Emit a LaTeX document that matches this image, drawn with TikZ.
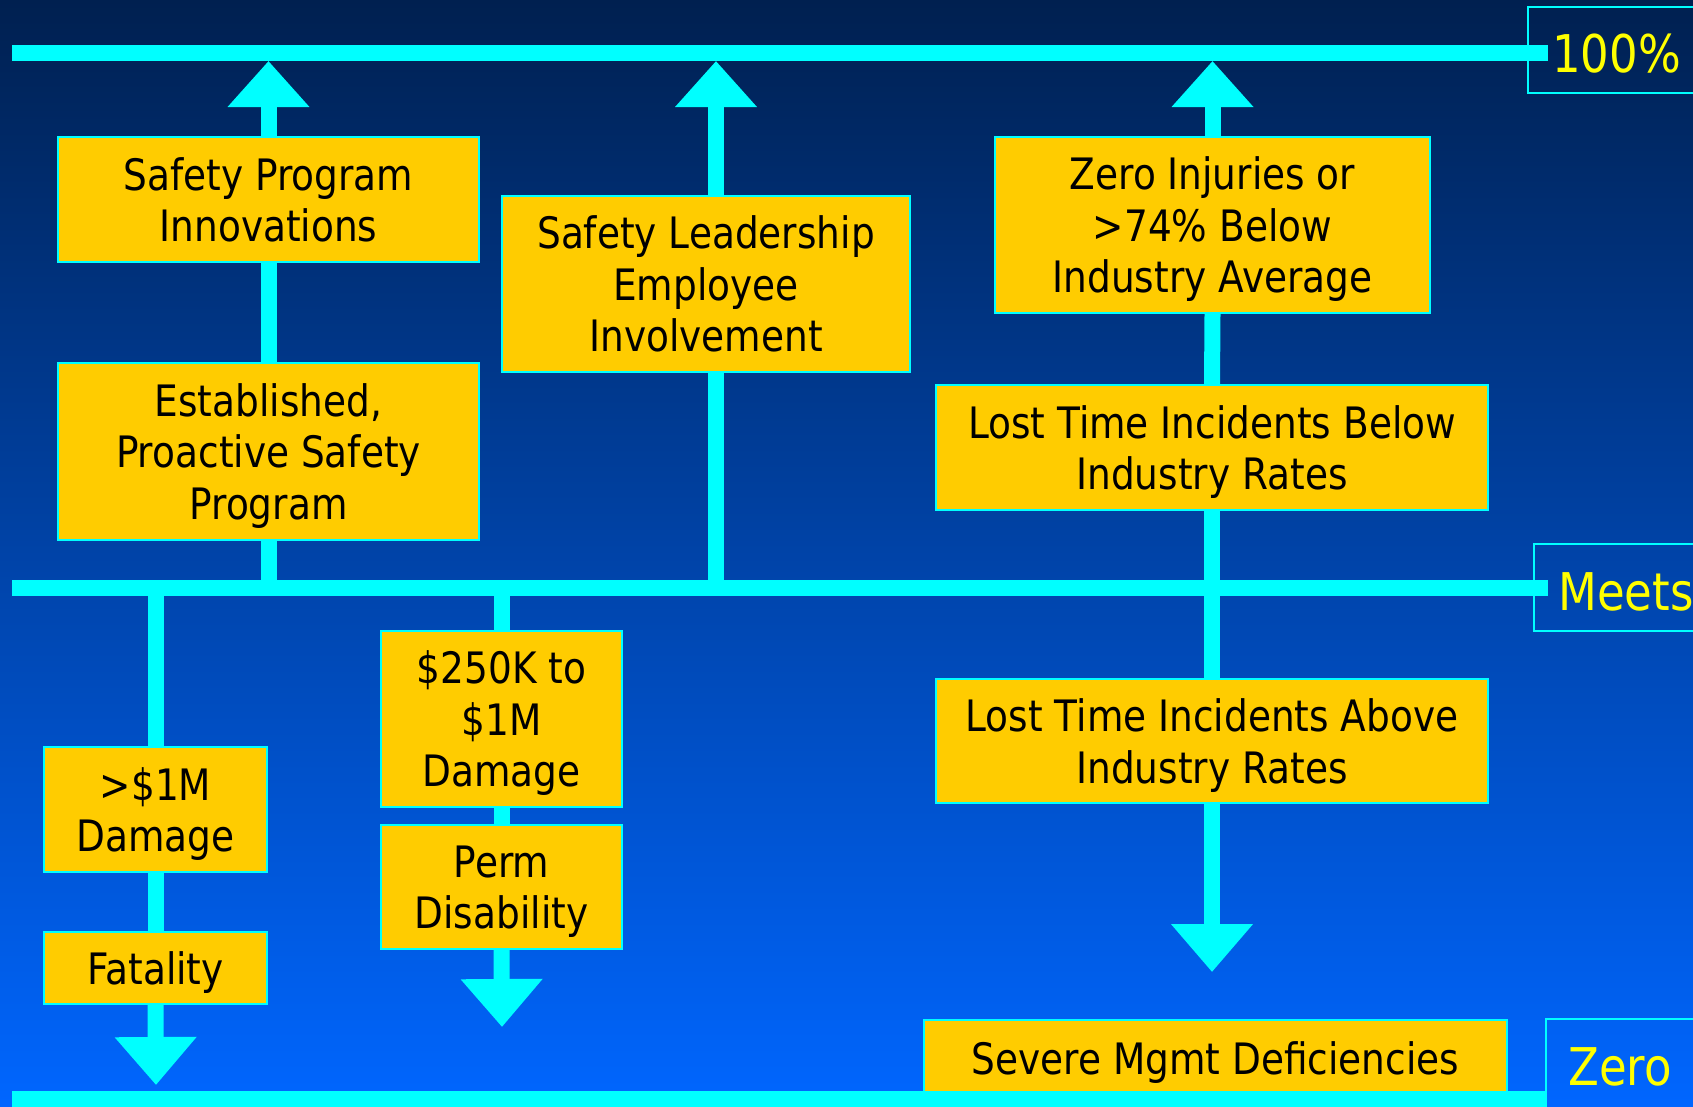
\documentclass[tikz,border=0pt]{standalone}
\usepackage{fontspec}
\setmainfont{DejaVu Sans}[FakeStretch=0.865]
\usepackage{tikz}
\usetikzlibrary{arrows.meta}
\usetikzlibrary{positioning}
\definecolor{bartone}{rgb}{0,1,1}
\definecolor{boxfill}{RGB}{255,204,0}
\definecolor{skytop}{RGB}{0,32,80}
\definecolor{skymid}{RGB}{0,80,200}
\definecolor{skybot}{RGB}{0,102,255}
\definecolor{labeltext}{RGB}{255,255,0}

\begin{document}
\begin{tikzpicture}[x=1pt,y=-1pt,
    box/.style={draw=bartone,line width=2pt,fill=boxfill,align=center,inner sep=0pt,
        text depth=-4pt,font=\fontsize{43.3}{51.5}\selectfont},
    bar/.style={draw=bartone,line width=16pt},
    rise/.style={bar,-{Triangle[width=79pt,length=46pt]}},
    fall/.style={bar,-{Triangle[width=79pt,length=48pt]}},
    levelbox/.style={draw=bartone,line width=2pt},
    levellabel/.style={text=labeltext,anchor=base west,inner sep=0pt,
        font=\fontsize{52}{60}\selectfont}]
\useasboundingbox (0,0) rectangle (1693,1106);

% background
\shade[top color=skytop,middle color=skymid,bottom color=skybot] (0,0) rectangle (1693,1106);

% level labels on the right
\draw[levelbox] (1528,7) rectangle (1700,93);
\node[levellabel] (hundred) at (1552,72) {100\%};
\draw[levelbox] (1534,544) rectangle (1700,631);
\node[levellabel] (meets) at (1558,610) {Meets};
\draw[levelbox] (1546,1019) rectangle (1700,1110);
\node[levellabel] (zero) at (1568,1085) {Zero};

% the boxes
\node[box,minimum width=421pt,minimum height=125pt] (inno) at (268.5,199.5) {Safety Program\\Innovations};
\node[box,minimum width=421pt,minimum height=177pt] (proact) at (268.5,451.5) {Established,\\Proactive Safety\\Program};
\node[box,minimum width=408pt,minimum height=176pt] (lead) at (706,284) {Safety Leadership\\Employee\\Involvement};
\node[box,minimum width=435pt,minimum height=176pt] (zeroinj) at (1212.5,225) {Zero Injuries or\\>74\% Below\\Industry Average};
\node[box,minimum width=552pt,minimum height=125pt] (ltibelow) at (1212,447.5) {Lost Time Incidents Below\\Industry Rates};
\node[box,minimum width=552pt,minimum height=124pt] (ltiabove) at (1212,741) {Lost Time Incidents Above\\Industry Rates};
\node[box,minimum width=223pt,minimum height=125pt] (bigdmg) at (155.5,809.5) {>\$1M\\Damage};
\node[box,minimum width=223pt,minimum height=72pt] (fatal) at (155.5,968) {Fatality};
\node[box,minimum width=241pt,minimum height=176pt] (middmg) at (501.5,719) {\$250K to\\\$1M\\Damage};
\node[box,minimum width=241pt,minimum height=124pt] (perm) at (501.5,887) {Perm\\Disability};
\node[box,minimum width=583pt,minimum height=76pt] (severe) at (1215.5,1058) {Severe Mgmt Deficiencies};

% the three levels
\coordinate (topedge) at (0,61);
\coordinate (meetsbar) at (0,588);
\foreach \y/\e in {52.5/1548,588/1548,1099/1546} {
    \draw[bar] (12,\y) -- (\e,\y);
}

% rising columns
\draw[bar] (meetsbar -| proact.south) -- (proact.south);
\draw[bar] (proact.north) -- (inno.south);
\draw[rise] (inno.north) -- (topedge -| inno.north);
\coordinate (leadfoot) at (716,588);
\draw[bar] (leadfoot) -- (leadfoot |- lead.south);
\draw[rise] (leadfoot |- lead.north) -- (leadfoot |- topedge);
\draw[rise] (zeroinj.north) -- (topedge -| zeroinj.north);
\draw[bar] (zeroinj.south) -- (ltibelow.north);

% falling columns
\coordinate (ltitip) at (1212,972);
\coordinate (fataltip) at (156,1085);
\coordinate (permtip) at (502,1027);
\draw[bar] (ltibelow.south) -- (ltiabove.north);
\draw[fall] (ltiabove.south) -- (ltitip);
\draw[bar] (meetsbar -| bigdmg.north) -- (bigdmg.north);
\draw[bar] (bigdmg.south) -- (fatal.north);
\draw[fall] (fatal.south) -- (fataltip);
\draw[bar] (meetsbar -| middmg.north) -- (middmg.north);
\draw[bar] (middmg.south) -- (perm.north);
\draw[fall] (perm.south) -- (permtip);

\end{tikzpicture}
\end{document}
